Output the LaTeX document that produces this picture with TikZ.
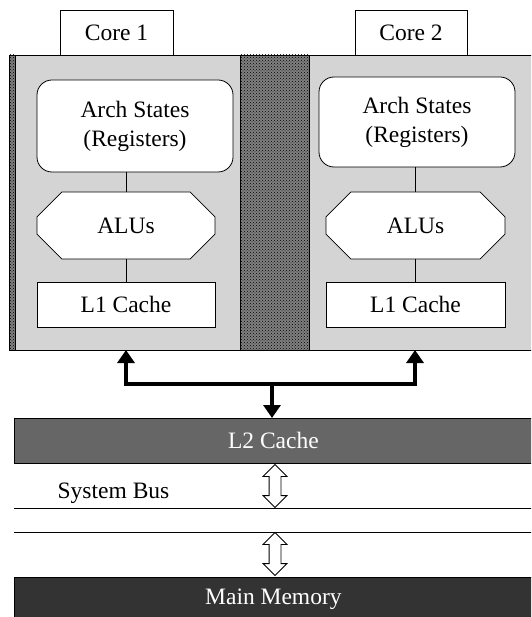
\documentclass[tikz,border=0pt]{standalone}
\usepackage{fontspec}
\setmainfont{Liberation Serif}
\usetikzlibrary{arrows.meta,patterns,shapes.misc,shapes.arrows}
\definecolor{coregray}{RGB}{212,212,212}
\definecolor{midgray}{RGB}{128,128,128}
\definecolor{ltwo}{RGB}{102,102,102}
\definecolor{mainmem}{RGB}{51,51,51}
\begin{document}
\begin{tikzpicture}[x=1pt,y=-1pt,
  lbl/.style={font=\fontsize{23.5}{29}\selectfont},
  whitebox/.style={draw=black,fill=white,line width=0.8pt,inner sep=0pt,lbl},
  archbox/.style={whitebox,rounded corners=15pt,align=center},
  alubox/.style={whitebox,chamfered rectangle,chamfered rectangle xsep=18pt,chamfered rectangle ysep=17pt},
  thin link/.style={draw=black,line width=0.8pt},
  fatbus/.style={line width=3.6pt,draw=black},
  fattip/.style={-{Triangle[width=17pt,length=13pt]}},
  hollow/.style={double arrow,draw=black,fill=white,line width=0.8pt,rotate=90,inner sep=0pt,inner ysep=5.5pt,
    minimum height=43pt,double arrow head extend=6pt,double arrow tip angle=90},
  dots/.style={pattern=crosshatch dots,pattern color=black}
]
\useasboundingbox (0,0) rectangle (531,617);
\begin{scope}
\clip (0,0) rectangle (531,617);
% outer core region
\fill[coregray] (9,55) rectangle (540,350);
\fill[midgray] (9,55) rectangle (15,350);
\fill[dots] (9,55) rectangle (15,350);
\fill[midgray] (240,55) rectangle (309,350);
\fill[dots] (240,55) rectangle (309,350);
\draw[line width=0.8pt] (540,55) -- (9,55) -- (9,350) -- (540,350);
\draw[line width=0.8pt] (15,55) -- (15,350);
\draw[line width=0.8pt] (240,55) -- (240,350);
\draw[line width=0.8pt] (309,55) -- (309,350);

% core tabs
\node[whitebox,minimum width=113pt,minimum height=45pt] (core1) at (116.5,32.5) {Core 1};
\node[whitebox,minimum width=112pt,minimum height=45pt] (core2) at (411,32.5) {Core 2};

% core 1
\node[archbox,minimum width=196pt,minimum height=92pt] (arch1) at (135,126) {Arch States\\(Registers)};
\node[alubox,minimum width=178pt,minimum height=67pt] (alu1) at (126,225.5) {ALUs};
\node[whitebox,minimum width=178pt,minimum height=45pt] (l1a) at (126,304.5) {L1 Cache};
% core 2
\node[archbox,minimum width=196pt,minimum height=90pt] (arch2) at (417,122) {Arch States\\(Registers)};
\node[alubox,minimum width=179pt,minimum height=67pt] (alu2) at (415.5,225.5) {ALUs};
\node[whitebox,minimum width=179pt,minimum height=45pt] (l1b) at (415.5,304.5) {L1 Cache};

\draw[thin link] (alu1.north) -- (alu1.north |- arch1.south);
\draw[thin link] (alu1.south) -- (l1a.north);
\draw[thin link] (alu2.north) -- (alu2.north |- arch2.south);
\draw[thin link] (alu2.south) -- (l1b.north);

% L2 and memory
\node[draw=black,fill=ltwo,line width=0.8pt,minimum width=522pt,minimum height=45pt,inner sep=0pt,
  anchor=north west,text=white,lbl] (l2) at (14,418) {\hspace{-4pt}L2 Cache};
\node[draw=black,fill=mainmem,line width=0.8pt,minimum width=522pt,minimum height=44pt,inner sep=0pt,
  anchor=north west,text=white,lbl] (mem) at (14,577) {\hspace{-4pt}Main Memory};

% bus connectors
\coordinate (u1) at (126,350);
\coordinate (u2) at (415,350);
\coordinate (j1) at (126,384);
\coordinate (j2) at (415,384);
\coordinate (jm) at (272,384);
\draw[fatbus,{Triangle[width=17pt,length=13pt]}-{Triangle[width=17pt,length=13pt]}] (u1) -- (j1) -- (j2) -- (u2);
\draw[fatbus,fattip] (jm) -- (jm |- l2.north);

% system bus
\coordinate (b1l) at (14,508);
\coordinate (b1r) at (540,508);
\coordinate (b2l) at (14,532);
\coordinate (b2r) at (540,532);
\draw[line width=0.8pt] (b1l) -- (b1r);
\draw[line width=0.8pt] (b2l) -- (b2r);
\node[lbl,inner sep=0pt] (sysbus) at (113.5,493) {System Bus};

\node[hollow] (ha1) at (275,486) {};
\node[hollow] (ha2) at (275,554) {};
\end{scope}
\end{tikzpicture}
\end{document}
